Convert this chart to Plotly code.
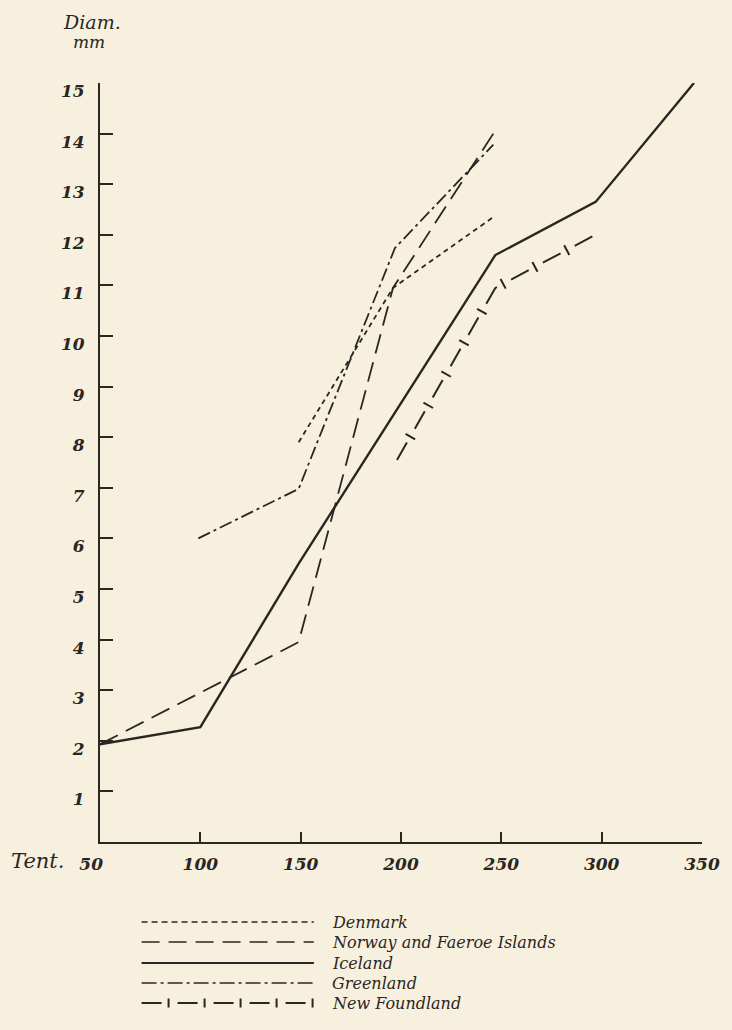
import plotly.graph_objects as go

# ---- data ----
denmark_x = [149, 196, 246]
denmark_y = [7.9, 10.95, 12.35]

norway_x = [50, 149, 196, 246]
norway_y = [1.93, 3.95, 10.95, 14.0]

iceland_x = [50, 100, 149, 247, 297, 346]
iceland_y = [1.93, 2.27, 5.5, 11.6, 12.65, 15.0]

greenland_x = [99, 149, 197, 246]
greenland_y = [6.0, 6.98, 11.74, 13.78]

newfoundland_x = [198, 247, 296]
newfoundland_y = [7.55, 10.95, 11.98]

x_ticks = [50, 100, 150, 200, 250, 300, 350]
x_ticktext = ["50\u00a0\u00a0\u00a0", "100", "150", "200", "250", "300", "350"]
y_ticks = list(range(1, 16))

series_names = ["Denmark", "Norway and Faeroe Islands", "Iceland", "Greenland", "New Foundland"]

# ---- styling ----
INK = "#2a2622"
BG = "#F8F0DF"
W, H = 732, 1030
L, R, T, B = 100, 24, 83, 188
PW, PH = W - L - R, H - T - B
FAM = "DejaVu Serif"

DASH_DK = "5px,4px"
DASH_NO = "20px,9px"
DASH_GR = "13px,4px,3px,4px"
DASH_NF = "20px,16px"
DASH_NF_BAR = "0px,26px,2px,8px"

fig = go.Figure()

def add_line(x, y, name, dash, width):
    fig.add_trace(go.Scatter(x=x, y=y, mode="lines", name=name,
                             line=dict(color=INK, width=width, dash=dash),
                             showlegend=False, hoverinfo="skip"))

add_line(denmark_x, denmark_y, series_names[0], DASH_DK, 1.8)
add_line(norway_x, norway_y, series_names[1], DASH_NO, 1.8)
add_line(iceland_x, iceland_y, series_names[2], "solid", 2.4)
add_line(greenland_x, greenland_y, series_names[3], DASH_GR, 1.8)
add_line(newfoundland_x, newfoundland_y, series_names[4], DASH_NF, 2.0)
# cross-bars of the New Foundland line
fig.add_trace(go.Scatter(x=newfoundland_x, y=newfoundland_y, mode="lines",
                         name=series_names[4] + " bars",
                         line=dict(color=INK, width=11, dash=DASH_NF_BAR),
                         showlegend=False, hoverinfo="skip"))

tick_font = dict(family=FAM, size=17, color=INK, style="italic", weight="bold")
text_font = dict(family=FAM, size=16, color=INK, style="italic")

fig.update_xaxes(range=[50, 350], tickvals=x_ticks, ticktext=x_ticktext,
                 showgrid=False, zeroline=False, showline=True, linecolor=INK, linewidth=1.8,
                 ticks="inside", ticklen=10, tickwidth=1.5, tickcolor=INK,
                 tickfont=tick_font, ticklabelstandoff=6)
fig.update_yaxes(range=[0, 15], tickvals=y_ticks,
                 showgrid=False, zeroline=False, showline=True, linecolor=INK, linewidth=1.8,
                 ticks="inside", ticklen=13, tickwidth=1.5, tickcolor=INK,
                 tickfont=tick_font, ticklabelstandoff=10, ticklabelshift=8)

def px(xp):
    return (xp - L) / PW

def py(yp):
    return (H - B - yp) / PH

annotations = [
    dict(text="Diam.", x=px(92), y=py(22), xref="paper", yref="paper", showarrow=False,
         font=dict(family=FAM, size=19, color=INK, style="italic"), xanchor="center", yanchor="middle"),
    dict(text="mm", x=px(89), y=py(42), xref="paper", yref="paper", showarrow=False,
         font=dict(family=FAM, size=17, color=INK, style="italic"), xanchor="center", yanchor="middle"),
    dict(text="Tent.", x=px(8), y=py(861), xref="paper", yref="paper", showarrow=False,
         font=dict(family=FAM, size=21, color=INK, style="italic"), xanchor="left", yanchor="middle"),
]

# ---- custom legend (long line samples) ----
shapes = []
legend_rows = [922, 942, 963, 983, 1003]
legend_styles = [("6px,4px", 1.6), ("18px,9px", 1.6), ("solid", 1.8), ("15px,4px,3px,4px", 1.6), (DASH_NF, 1.8)]
x0, x1 = px(142), px(316)
for name, yr, (dash, w) in zip(series_names, legend_rows, legend_styles):
    shapes.append(dict(type="line", xref="paper", yref="paper", x0=x0, x1=x1, y0=py(yr), y1=py(yr),
                       line=dict(color=INK, width=w, dash=dash)))
    annotations.append(dict(text=name, x=px(332), y=py(yr), xref="paper", yref="paper",
                            showarrow=False, xanchor="left", yanchor="middle", font=text_font))
shapes.append(dict(type="line", xref="paper", yref="paper", x0=x0, x1=x1,
                   y0=py(legend_rows[4]), y1=py(legend_rows[4]),
                   line=dict(color=INK, width=9, dash=DASH_NF_BAR)))

fig.update_layout(width=W, height=H, margin=dict(l=L, r=R, t=T, b=B),
                  paper_bgcolor=BG, plot_bgcolor=BG, showlegend=False,
                  annotations=annotations, shapes=shapes)

fig.write_html("out.html", config={"displayModeBar": False},
               post_script="document.body.style.margin='0';document.body.style.overflow='hidden';")
